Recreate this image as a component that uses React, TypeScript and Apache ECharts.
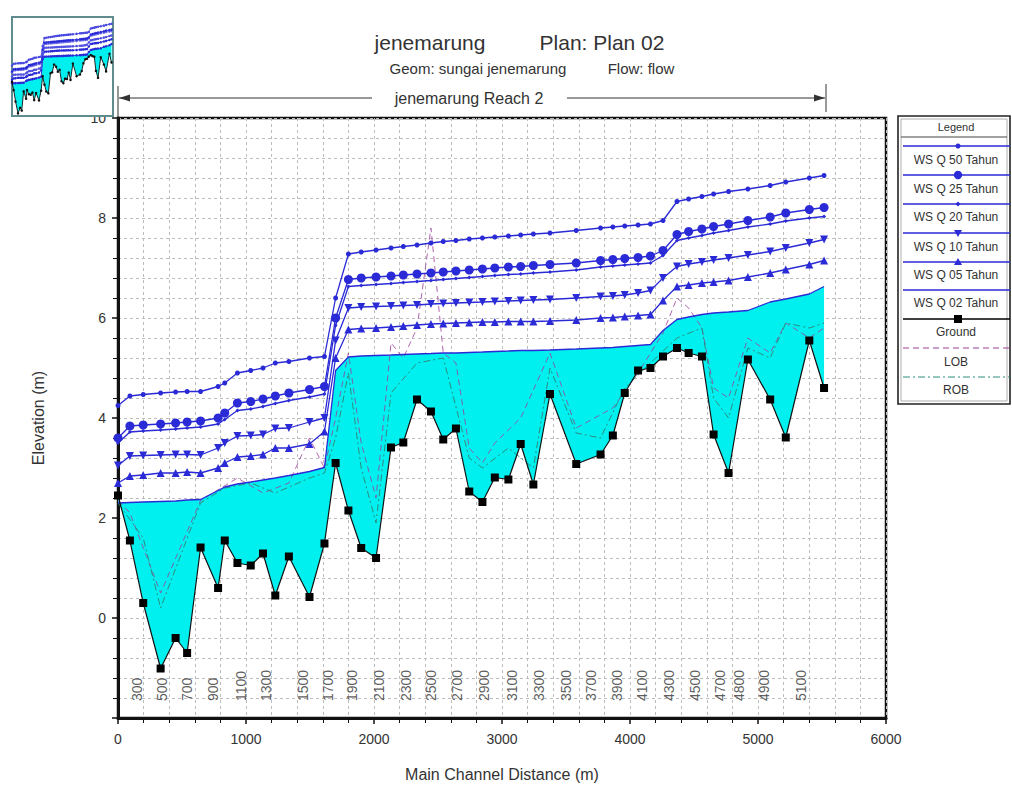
import React, { useEffect, useRef } from "react";
import * as echarts from "echarts";

// Cross-section main channel distances (m) and elevations (m)
const dist = [0, 93, 197, 333, 450, 540, 645, 782, 834, 933, 1037, 1133, 1229, 1335, 1496, 1613, 1700, 1800, 1900, 2016, 2133, 2229, 2336, 2445, 2541, 2640, 2744, 2847, 2944, 3050, 3146, 3245, 3375, 3580, 3770, 3866, 3959, 4063, 4160, 4258, 4367, 4458, 4562, 4653, 4770, 4921, 5095, 5217, 5401, 5516];
const ground = [2.45, 1.55, 0.3, -1.01, -0.4, -0.7, 1.41, 0.6, 1.55, 1.1, 1.05, 1.29, 0.45, 1.23, 0.42, 1.49, 3.1, 2.15, 1.4, 1.2, 3.41, 3.51, 4.37, 4.13, 3.57, 3.79, 2.53, 2.32, 2.81, 2.77, 3.48, 2.67, 4.48, 3.08, 3.27, 3.65, 4.5, 4.95, 5.0, 5.23, 5.4, 5.3, 5.23, 3.67, 2.9, 5.17, 4.37, 3.61, 5.55, 4.6];
const wsQ02 = [2.3, 2.31, 2.32, 2.33, 2.34, 2.36, 2.37, 2.55, 2.62, 2.68, 2.72, 2.76, 2.8, 2.85, 2.93, 3.01, 4.95, 5.22, 5.24, 5.25, 5.26, 5.27, 5.28, 5.29, 5.3, 5.3, 5.31, 5.32, 5.33, 5.34, 5.35, 5.35, 5.36, 5.38, 5.4, 5.41, 5.43, 5.45, 5.47, 5.75, 5.97, 6.02, 6.07, 6.1, 6.12, 6.15, 6.32, 6.38, 6.48, 6.63];
const wsQ05 = [2.7, 2.84, 2.86, 2.9, 2.9, 2.92, 2.9, 3.0, 3.1, 3.22, 3.24, 3.27, 3.4, 3.4, 3.48, 3.73, 5.2, 5.77, 5.79, 5.8, 5.82, 5.84, 5.86, 5.88, 5.89, 5.9, 5.91, 5.92, 5.92, 5.93, 5.93, 5.93, 5.94, 5.96, 6.0, 6.01, 6.03, 6.05, 6.07, 6.35, 6.63, 6.66, 6.7, 6.72, 6.75, 6.82, 6.9, 6.97, 7.07, 7.15];
const wsQ10 = [3.05, 3.24, 3.25, 3.26, 3.27, 3.27, 3.26, 3.4, 3.5, 3.64, 3.65, 3.67, 3.79, 3.8, 3.92, 4.0, 5.55, 6.2, 6.22, 6.23, 6.24, 6.25, 6.26, 6.28, 6.29, 6.3, 6.31, 6.32, 6.33, 6.34, 6.35, 6.36, 6.37, 6.4, 6.43, 6.44, 6.46, 6.5, 6.55, 6.8, 7.03, 7.08, 7.12, 7.16, 7.2, 7.26, 7.33, 7.4, 7.5, 7.57];
const wsQ20 = [3.5, 3.72, 3.74, 3.76, 3.78, 3.8, 3.82, 3.88, 3.97, 4.15, 4.18, 4.23, 4.29, 4.35, 4.42, 4.48, 5.85, 6.63, 6.65, 6.67, 6.69, 6.71, 6.73, 6.75, 6.77, 6.79, 6.81, 6.83, 6.85, 6.87, 6.88, 6.9, 6.92, 6.96, 7.02, 7.04, 7.06, 7.08, 7.1, 7.25, 7.55, 7.6, 7.65, 7.7, 7.75, 7.82, 7.88, 7.94, 8.0, 8.03];
const wsQ25 = [3.6, 3.84, 3.86, 3.88, 3.9, 3.92, 3.94, 4.0, 4.1, 4.3, 4.33, 4.38, 4.44, 4.5, 4.57, 4.63, 6.0, 6.77, 6.8, 6.82, 6.84, 6.86, 6.88, 6.9, 6.92, 6.94, 6.96, 6.98, 7.0, 7.02, 7.03, 7.05, 7.07, 7.1, 7.15, 7.17, 7.19, 7.21, 7.24, 7.35, 7.67, 7.73, 7.78, 7.83, 7.88, 7.95, 8.02, 8.1, 8.17, 8.21];
const wsQ50 = [4.25, 4.44, 4.47, 4.5, 4.52, 4.53, 4.53, 4.63, 4.7, 4.9, 4.95, 5.0, 5.1, 5.13, 5.2, 5.23, 6.4, 7.28, 7.32, 7.36, 7.4, 7.43, 7.46, 7.5, 7.53, 7.55, 7.58, 7.6, 7.62, 7.64, 7.66, 7.68, 7.7, 7.75, 7.8, 7.82, 7.84, 7.86, 7.88, 7.95, 8.33, 8.38, 8.43, 8.48, 8.53, 8.58, 8.65, 8.72, 8.8, 8.85];

// Left and right overbank stations
const lobDist = [0, 93, 333, 645, 933, 1133, 1335, 1496, 1613, 1700, 1800, 1900, 2016, 2133, 2229, 2336, 2445, 2541, 2640, 2744, 2847, 2944, 3146, 3375, 3580, 3866, 4063, 4258, 4367, 4458, 4562, 4653, 4770, 4921, 5095, 5217, 5401, 5516];
const lobElev = [2.35, 2.1, 0.5, 2.35, 2.8, 2.5, 2.7, 3.6, 3.0, 4.0, 5.3, 3.5, 2.4, 5.5, 5.2, 5.8, 7.8, 5.3, 5.1, 3.4, 3.1, 3.5, 4.0, 5.3, 3.8, 4.2, 4.9, 5.7, 6.4, 6.2, 5.8, 4.6, 4.4, 5.6, 5.3, 5.9, 5.6, 5.8];
const robDist = [0, 197, 333, 645, 834, 1037, 1229, 1496, 1613, 1700, 1800, 1900, 2016, 2133, 2336, 2541, 2744, 2847, 3050, 3245, 3375, 3580, 3770, 3959, 4160, 4367, 4562, 4653, 4770, 4921, 5095, 5217, 5401, 5516];
const robElev = [2.3, 1.6, 0.2, 2.3, 2.6, 2.7, 2.5, 2.8, 2.9, 3.6, 4.9, 3.0, 1.9, 4.5, 5.1, 5.2, 3.2, 3.0, 3.4, 3.0, 5.0, 3.7, 3.6, 4.6, 5.1, 5.6, 5.8, 4.4, 4.0, 5.4, 5.2, 5.9, 5.8, 5.9];

// River station labels along the bottom of the profile
const stationNames = ["300", "500", "700", "900", "1100", "1300", "1500", "1700", "1900", "2100", "2300", "2500", "2700", "2900", "3100", "3300", "3500", "3700", "3900", "4100", "4300", "4500", "4700", "4800", "4900", "5100"];
const stationPos = [146, 341, 538, 740, 964, 1159, 1442, 1637, 1832, 2042, 2250, 2445, 2650, 2860, 3079, 3289, 3497, 3692, 3897, 4092, 4302, 4510, 4705, 4848, 5043, 5339];
const stationLabelElev = -1.66;

const FONT = '"Liberation Sans", Arial, sans-serif';
const BLUE = "#2a2ad6";
const CYAN = "#00f0f0";
const TEXT = "#333";
const LOB_COLOR = "#9a3f9a";
const ROB_COLOR = "#2c8c7c";

const zip = (xs: number[], ys: number[]) => xs.map((x, i) => [x, ys[i]]);

const fillSeries = (axis: number, z: number) => ({
  type: "custom",
  xAxisIndex: axis,
  yAxisIndex: axis,
  silent: true,
  z,
  data: [[0, 0]],
  renderItem: (_p: any, api: any) => {
    const top = dist.map((d, i) => api.coord([d, wsQ02[i]]));
    const bottom = dist.map((d, i) => api.coord([d, ground[i]])).reverse();
    return {
      type: "polygon",
      shape: { points: top.concat(bottom) },
      style: { fill: CYAN, stroke: "none" },
    };
  },
});

const wsSeries = (name: string, vals: number[], symbol: string, size: number, rotate = 0) => ({
  name,
  type: "line",
  xAxisIndex: 0,
  yAxisIndex: 0,
  data: zip(dist, vals),
  symbol,
  symbolSize: size,
  symbolRotate: rotate,
  showSymbol: symbol !== "none",
  lineStyle: { color: BLUE, width: 1.3 },
  itemStyle: { color: BLUE },
  silent: true,
  z: 4,
});

const thumbLine = (vals: number[], color: string) => ({
  type: "line",
  xAxisIndex: 1,
  yAxisIndex: 1,
  data: zip(dist, vals),
  symbol: "circle",
  symbolSize: 2.5,
  lineStyle: { color, width: 0.9 },
  itemStyle: { color },
  silent: true,
  z: 13,
});

const txt = (text: string, x: number, y: number, size: number, extra: any = {}) => ({
  type: "text",
  x,
  y,
  silent: true,
  style: {
    text,
    fill: TEXT,
    fontSize: size,
    fontFamily: FONT,
    align: "center",
    verticalAlign: "middle",
    ...extra,
  },
});

const seg = (x1: number, y1: number, x2: number, y2: number, stroke = "#333", lineWidth = 1, lineDash?: number[]) => ({
  type: "line",
  silent: true,
  shape: { x1, y1, x2, y2 },
  style: { stroke, lineWidth, lineDash },
});

function legendGraphics() {
  const lx1 = 903;
  const lx2 = 1010;
  const mx = 958;
  const items: any[] = [
    { type: "rect", shape: { x: 898, y: 116, width: 112, height: 288 }, style: { fill: "#fff", stroke: "#222", lineWidth: 1.6 } },
    { type: "rect", shape: { x: 901, y: 119, width: 106, height: 282 }, style: { fill: "none", stroke: "#999", lineWidth: 0.8 } },
    seg(901, 137, 1007, 137, "#444", 1),
    txt("Legend", 956, 127, 11),
  ];
  const rows = [
    { label: "WS Q 50 Tahun", ly: 146, ty: 160 },
    { label: "WS Q 25 Tahun", ly: 175, ty: 189 },
    { label: "WS Q 20 Tahun", ly: 204, ty: 217 },
    { label: "WS Q 10 Tahun", ly: 233, ty: 247 },
    { label: "WS Q 05 Tahun", ly: 262, ty: 275 },
    { label: "WS Q 02 Tahun", ly: 290, ty: 303 },
    { label: "Ground", ly: 319, ty: 332 },
    { label: "LOB", ly: 348, ty: 362 },
    { label: "ROB", ly: 377, ty: 390 },
  ];
  rows.forEach((r, i) => {
    if (i < 6) items.push(seg(lx1, r.ly, lx2, r.ly, BLUE, 1.3));
    if (i === 6) items.push(seg(lx1, r.ly, lx2, r.ly, "#000", 1.5));
    if (i === 7) items.push(seg(lx1, r.ly, lx2, r.ly, LOB_COLOR, 1, [6, 4]));
    if (i === 8) items.push(seg(lx1, r.ly, lx2, r.ly, ROB_COLOR, 1, [7, 3, 2, 3]));
    const y = r.ly;
    if (i === 0) items.push({ type: "circle", shape: { cx: mx, cy: y, r: 2.5 }, style: { fill: BLUE } });
    if (i === 1) items.push({ type: "circle", shape: { cx: mx, cy: y, r: 4.2 }, style: { fill: BLUE } });
    if (i === 2) items.push({ type: "polygon", shape: { points: [[mx, y - 2.5], [mx + 2.5, y], [mx, y + 2.5], [mx - 2.5, y]] }, style: { fill: BLUE } });
    if (i === 3) items.push({ type: "polygon", shape: { points: [[mx - 4, y - 3], [mx + 4, y - 3], [mx, y + 4]] }, style: { fill: BLUE } });
    if (i === 4) items.push({ type: "polygon", shape: { points: [[mx - 4, y + 3], [mx + 4, y + 3], [mx, y - 4]] }, style: { fill: BLUE } });
    if (i === 6) items.push({ type: "rect", shape: { x: mx - 4, y: y - 4, width: 8, height: 8 }, style: { fill: "#000" } });
    items.push(txt(r.label, 956, r.ty, 12));
  });
  return items.map((e) => ({ silent: true, ...e }));
}

function headerGraphics() {
  return [
    txt("jenemarung", 430, 42, 21),
    txt("Plan: Plan 02", 602, 42, 21),
    txt("Geom: sungai jenemarung", 478, 68, 15),
    txt("Flow: flow", 641, 68, 15),
    // reach extent arrow
    seg(118, 86, 118, 118, "#333", 1),
    seg(826, 84, 826, 112, "#333", 1),
    seg(119, 98, 372, 98, "#333", 1),
    seg(567, 98, 825, 98, "#333", 1),
    { type: "polygon", silent: true, shape: { points: [[119, 98], [130, 94.5], [130, 101.5]] }, style: { fill: "#333" } },
    { type: "polygon", silent: true, shape: { points: [[825, 98], [814, 94.5], [814, 101.5]] }, style: { fill: "#333" } },
    txt("jenemarung Reach 2", 469, 98, 16),
  ];
}

export default function App() {
  const ref = useRef<HTMLDivElement>(null);

  useEffect(() => {
    if (!ref.current) return;
    const chart = echarts.init(ref.current, undefined, { renderer: "svg" });

    const gridLine = { show: true, lineStyle: { color: "#bcbcbc", type: [3, 3], width: 1 } };

    const option: any = {
      animation: false,
      backgroundColor: "#fff",
      textStyle: { fontFamily: FONT },
      grid: [
        { left: 118, top: 118, width: 768, height: 602, show: true, borderColor: "#111", borderWidth: 2.5, backgroundColor: "#fff", z: 0 },
        { left: 12, top: 17, width: 101, height: 99, show: true, borderColor: "#5f8c8c", borderWidth: 2, backgroundColor: "#fff", z: 10 },
      ],
      xAxis: [
        {
          type: "value",
          gridIndex: 0,
          min: 0,
          max: 6000,
          interval: 1000,
          name: "Main Channel Distance (m)",
          nameLocation: "middle",
          nameGap: 48,
          nameTextStyle: { fontSize: 16, color: TEXT, fontFamily: FONT },
          axisLine: { show: true, onZero: false, lineStyle: { color: "#111", width: 3 } },
          axisTick: { show: true, length: 6, lineStyle: { color: "#111", width: 1.5 } },
          minorTick: { show: true, splitNumber: 5, length: 5, lineStyle: { color: "#111", width: 1 } },
          axisLabel: { fontSize: 14, color: TEXT, margin: 14, fontFamily: FONT, formatter: (v: number) => String(v) },
          splitLine: gridLine,
          minorSplitLine: gridLine,
        },
        { type: "value", gridIndex: 1, min: 0, max: 5600, show: false, splitLine: { show: false } },
      ],
      yAxis: [
        {
          type: "value",
          gridIndex: 0,
          min: -2,
          max: 10,
          interval: 2,
          name: "Elevation (m)",
          nameLocation: "middle",
          nameGap: 72,
          nameTextStyle: { fontSize: 16, color: TEXT, fontFamily: FONT },
          axisLine: { show: true, onZero: false, lineStyle: { color: "#111", width: 3 } },
          axisTick: { show: true, length: 6, lineStyle: { color: "#111", width: 1.5 } },
          minorTick: { show: true, splitNumber: 5, length: 5, lineStyle: { color: "#111", width: 1 } },
          axisLabel: {
            fontSize: 14,
            color: TEXT,
            margin: 12,
            fontFamily: FONT,
            formatter: (v: number) => (v === -2 ? "" : String(v)),
          },
          splitLine: gridLine,
          minorSplitLine: gridLine,
        },
        { type: "value", gridIndex: 1, min: -1.3, max: 9.6, show: false, splitLine: { show: false } },
      ],
      series: [
        fillSeries(0, 2),
        {
          name: "LOB",
          type: "line",
          xAxisIndex: 0,
          yAxisIndex: 0,
          data: zip(lobDist, lobElev),
          symbol: "none",
          lineStyle: { color: LOB_COLOR, width: 1, type: [6, 4], opacity: 0.8 },
          silent: true,
          z: 3,
        },
        {
          name: "ROB",
          type: "line",
          xAxisIndex: 0,
          yAxisIndex: 0,
          data: zip(robDist, robElev),
          symbol: "none",
          lineStyle: { color: ROB_COLOR, width: 1, type: [7, 3, 2, 3] },
          silent: true,
          z: 3,
        },
        wsSeries("WS Q 02 Tahun", wsQ02, "none", 0),
        wsSeries("WS Q 05 Tahun", wsQ05, "triangle", 8),
        wsSeries("WS Q 10 Tahun", wsQ10, "triangle", 8, 180),
        wsSeries("WS Q 20 Tahun", wsQ20, "diamond", 4),
        wsSeries("WS Q 25 Tahun", wsQ25, "circle", 9),
        wsSeries("WS Q 50 Tahun", wsQ50, "circle", 5),
        {
          name: "Ground",
          type: "line",
          xAxisIndex: 0,
          yAxisIndex: 0,
          data: zip(dist, ground),
          symbol: "rect",
          symbolSize: 8,
          lineStyle: { color: "#111", width: 1.2 },
          itemStyle: { color: "#000" },
          silent: true,
          z: 5,
        },
        {
          name: "stations",
          type: "scatter",
          xAxisIndex: 0,
          yAxisIndex: 0,
          data: stationPos.map((x, i) => [x, stationLabelElev, stationNames[i]]),
          symbolSize: 2,
          itemStyle: { color: "rgba(0,0,0,0)" },
          silent: true,
          z: 6,
          label: {
            show: true,
            position: "inside",
            rotate: 90,
            align: "left",
            verticalAlign: "middle",
            fontSize: 14,
            color: "#333",
            fontFamily: FONT,
            formatter: (p: any) => p.value[2],
          },
        },
        // overview thumbnail
        fillSeries(1, 12),
        thumbLine(wsQ02, BLUE),
        thumbLine(wsQ05, BLUE),
        thumbLine(wsQ10, "#5050e0"),
        thumbLine(wsQ20, "#6a6ae8"),
        thumbLine(wsQ25, BLUE),
        thumbLine(wsQ50, "#4a4ae0"),
        { ...thumbLine(ground, "#111"), z: 14 },
      ],
      graphic: [...headerGraphics(), ...legendGraphics()],
    };

    chart.setOption(option);
    return () => chart.dispose();
  }, []);

  return (
    <div
      ref={ref}
      style={{ position: "fixed", left: 0, top: 0, width: 1012, height: 787, background: "#fff" }}
    />
  );
}
